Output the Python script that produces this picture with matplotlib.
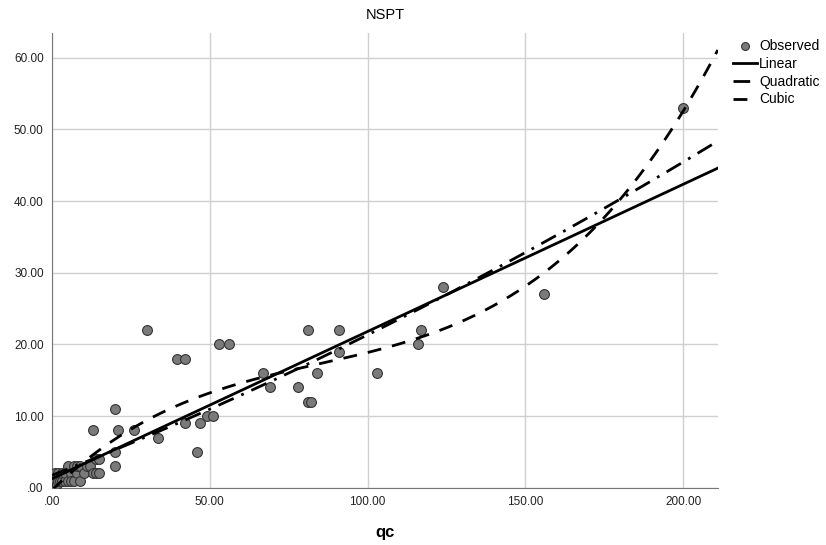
import numpy as np
import matplotlib
matplotlib.use('Agg')
from matplotlib import pyplot as plt

plt.rcParams['font.family'] = ['Liberation Sans', 'DejaVu Sans']

# observed points
qc = [0.3, 0.5, 1, 1, 1.5, 2, 2, 2.5, 3, 3, 4, 4, 5, 5, 6, 6, 7, 7, 8, 8, 9, 9, 10, 11, 12,
      13, 13, 14, 14, 15, 15, 20, 20, 20, 21, 26, 30, 33.5, 39.5, 42, 42, 46, 47, 49, 51,
      53, 56, 67, 69, 78, 81, 81, 82, 84, 91, 91, 103, 116, 117, 124, 156, 200]
nspt = [0, 1, 1, 2, 0.5, 2, 1, 1, 1, 2, 1, 2, 1, 3, 2, 1, 1, 3, 2, 3, 1, 3, 2, 3, 3,
        2, 8, 2, 4, 2, 4, 3, 5, 11, 8, 8, 22, 7, 18, 18, 9, 5, 9, 10, 10,
        20, 20, 16, 14, 14, 22, 12, 12, 16, 22, 19, 16, 20, 22, 28, 27, 53]

x_ticks = [0, 50, 100, 150, 200]
x_labels = ['.00', '50.00', '100.00', '150.00', '200.00']
y_ticks = [0, 10, 20, 30, 40, 50, 60]
y_labels = ['.00', '10.00', '20.00', '30.00', '40.00', '50.00', '60.00']

fig = plt.figure(figsize=(8.26, 5.45), dpi=100)
ax = fig.add_axes([0.063, 0.105, 0.806, 0.834])

xs = np.linspace(0, 211, 300)
fits = [(1, 'Linear', '-'), (2, 'Quadratic', (0, (6, 3, 1, 3))), (3, 'Cubic', (0, (5, 4)))]

ax.scatter(qc, nspt, s=50, facecolor='#7a7a7a', edgecolor='#333333', linewidth=0.8,
           label='Observed', zorder=3)
for deg, name, ls in fits:
    coef = np.polyfit(qc, nspt, deg)
    ax.plot(xs, np.polyval(coef, xs), color='black', lw=2, linestyle=ls, label=name, zorder=4)

ax.set_xlim(0, 211)
ax.set_ylim(0, 63.4)
ax.set_xticks(x_ticks)
ax.set_xticklabels(x_labels)
ax.set_yticks(y_ticks)
ax.set_yticklabels(y_labels)
ax.tick_params(length=0, labelsize=8.5, colors='#222222', pad=6)
ax.grid(True, color='#d0d0d0', lw=1)
ax.set_axisbelow(True)
for s in ['top', 'right']:
    ax.spines[s].set_visible(False)
for s in ['left', 'bottom']:
    ax.spines[s].set_color('#777777')

ax.set_title('NSPT', fontsize=10.5, pad=10)
ax.set_xlabel('qc', fontsize=12, fontweight='bold', labelpad=12)

ax.legend(loc='upper left', bbox_to_anchor=(1.015, 1.0), frameon=False, fontsize=10,
          handlelength=1.7, handletextpad=0.15, labelspacing=0.28, borderaxespad=0,
          markerscale=0.8)

plt.savefig('out.png')
